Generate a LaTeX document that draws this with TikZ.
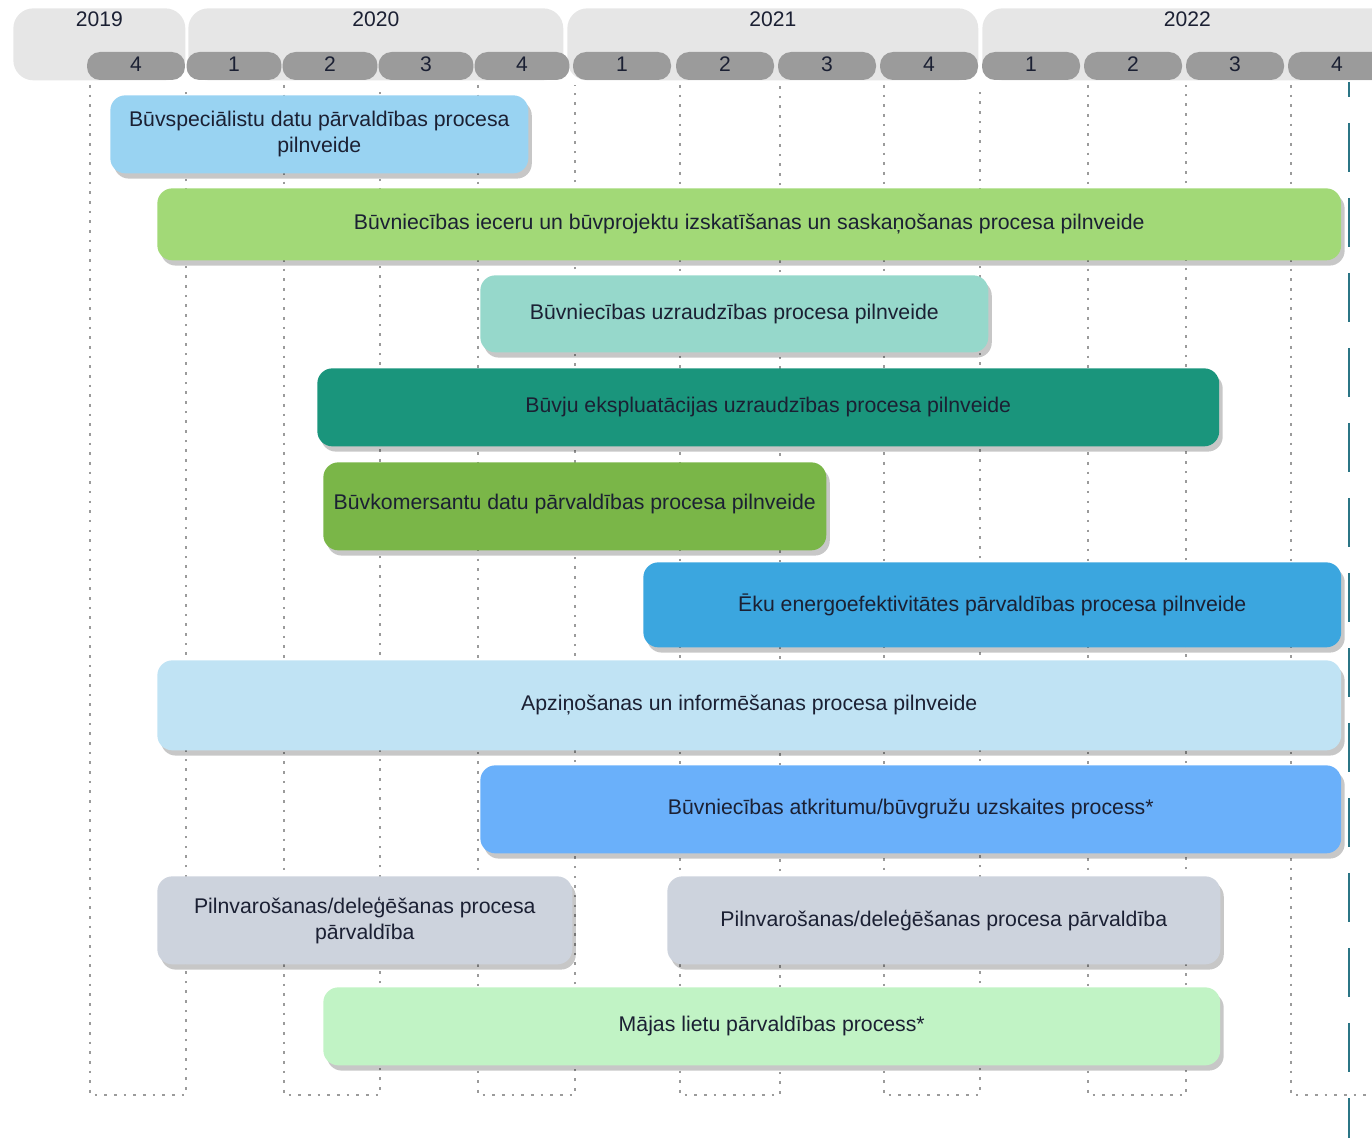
\documentclass[tikz,border=0pt]{standalone}
\usepackage{fontspec}
\setmainfont{Liberation Sans}
\usetikzlibrary{shadows}
\definecolor{yeargray}{HTML}{E6E6E6}
\definecolor{qgray}{HTML}{9B9B9B}
\definecolor{ink}{HTML}{1B2033}
\definecolor{nowteal}{HTML}{2B7585}
\definecolor{cspec}{HTML}{99D3F2}
\definecolor{cieceru}{HTML}{A2D977}
\definecolor{cuzr}{HTML}{96D8CB}
\definecolor{cekspl}{HTML}{1A957C}
\definecolor{ckomers}{HTML}{7AB648}
\definecolor{cenerg}{HTML}{3BA6DF}
\definecolor{capzin}{HTML}{C0E3F4}
\definecolor{catkr}{HTML}{6AB0FA}
\definecolor{cpilnv}{HTML}{CDD3DD}
\definecolor{cmajas}{HTML}{C1F3C5}
\tikzstyle{year} = [rectangle, rounded corners=0.4cm, fill=yeargray, anchor=north west, minimum height=1.44cm, inner sep=0pt]
\tikzstyle{yearlabel} = [anchor=north, inner sep=2pt, text=ink, font=\fontsize{12}{14}\selectfont]
\tikzstyle{quarter} = [rectangle, rounded corners=0.26cm, fill=qgray, minimum width=1.96cm, minimum height=0.56cm, inner sep=0pt, text=ink, font=\fontsize{12}{14}\selectfont]
\tikzstyle{bar} = [rectangle, rounded corners=0.3cm, anchor=north west, inner sep=0pt, align=center, text=ink, font=\fontsize{12.1}{14.8}\selectfont, drop shadow={shadow xshift=2pt, shadow yshift=-3pt, opacity=0.22, fill=black}]
\tikzstyle{guide} = [draw=qgray, line width=0.6pt, dash pattern=on 1.5pt off 4pt]
\tikzstyle{today} = [draw=nowteal, line width=1.4pt, dash pattern=on 0.98cm off 0.52cm, dash phase=0.68cm]

\begin{document}
\begin{tikzpicture}[x=0.02cm, y=-0.02cm]

    \clip (0,0) rectangle (1372,1138);

    % years
    \node (y19) [year, minimum width=3.44cm, label={[yearlabel]north:2019}] at (13,8) {};
    \node (y20) [year, minimum width=7.5cm, label={[yearlabel]north:2020}] at (188,8) {};
    \node (y21) [year, minimum width=8.22cm, label={[yearlabel]north:2021}] at (567,8) {};
    \node (y22) [year, minimum width=8.2cm, label={[yearlabel]north:2022}] at (982,8) {};

    % quarters
    \node (q1) [quarter] at (136,66) {\raisebox{2pt}{4}};
    \node (q2) [quarter, minimum width=1.9cm] at (234,66) {\raisebox{2pt}{1}};
    \node (q3) [quarter, minimum width=1.9cm] at (330,66) {\raisebox{2pt}{2}};
    \node (q4) [quarter, minimum width=1.9cm] at (426,66) {\raisebox{2pt}{3}};
    \node (q5) [quarter, minimum width=1.9cm] at (522,66) {\raisebox{2pt}{4}};
    \node (q6) [quarter] at (622,66) {\raisebox{2pt}{1}};
    \node (q7) [quarter] at (725,66) {\raisebox{2pt}{2}};
    \node (q8) [quarter] at (827,66) {\raisebox{2pt}{3}};
    \node (q9) [quarter] at (929,66) {\raisebox{2pt}{4}};
    \node (q10) [quarter] at (1031,66) {\raisebox{2pt}{1}};
    \node (q11) [quarter] at (1133,66) {\raisebox{2pt}{2}};
    \node (q12) [quarter] at (1235,66) {\raisebox{2pt}{3}};
    \node (q13) [quarter] at (1337,66) {\raisebox{2pt}{4}};

    % quarter guides
    \draw [guide] (90,85) -- (90,1095) -- (186,1095) -- (186,85);
    \draw [guide] (284,85) -- (284,1095) -- (380,1095) -- (380,85);
    \draw [guide] (478,85) -- (478,1095) -- (575,1095) -- (575,85);
    \draw [guide] (680,85) -- (680,1095) -- (780,1095) -- (780,85);
    \draw [guide] (884,85) -- (884,1095) -- (980,1095) -- (980,85);
    \draw [guide] (1088,85) -- (1088,1095) -- (1186,1095) -- (1186,85);
    \draw [guide] (1291,85) -- (1291,1095) -- (1380,1095);

    % processes
    \node (p1) [bar, fill=cspec, minimum width=8.36cm, minimum height=1.56cm] at (110,95) {Būvspeciālistu datu pārvaldības procesa\\pilnveide};
    \node (p2) [bar, fill=cieceru, minimum width=23.68cm, minimum height=1.44cm] at (157,188) {Būvniecības ieceru un būvprojektu izskatīšanas un saskaņošanas procesa pilnveide};
    \node (p3) [bar, fill=cuzr, minimum width=10.16cm, minimum height=1.54cm] at (480,275) {Būvniecības uzraudzības procesa pilnveide};
    \node (p4) [bar, fill=cekspl, minimum width=18.04cm, minimum height=1.56cm] at (317,368) {Būvju ekspluatācijas uzraudzības procesa pilnveide};
    \node (p5) [bar, fill=ckomers, minimum width=10.06cm, minimum height=1.76cm] at (323,462) {\raisebox{5pt}{Būvkomersantu datu pārvaldības procesa pilnveide}};
    \node (p6) [bar, fill=cenerg, minimum width=13.96cm, minimum height=1.7cm] at (643,562) {Ēku energoefektivitātes pārvaldības procesa pilnveide};
    \node (p7) [bar, fill=capzin, minimum width=23.68cm, minimum height=1.8cm] at (157,660) {Apziņošanas un informēšanas procesa pilnveide};
    \node (p8) [bar, fill=catkr, minimum width=17.22cm, minimum height=1.76cm] at (480,765) {Būvniecības atkritumu/būvgružu uzskaites process*};
    \node (p9) [bar, fill=cpilnv, minimum width=8.3cm, minimum height=1.76cm] at (157,876) {Pilnvarošanas/deleģēšanas procesa\\pārvaldība};
    \node (p10) [bar, fill=cpilnv, minimum width=11.06cm, minimum height=1.76cm] at (667,876) {Pilnvarošanas/deleģēšanas procesa pārvaldība};
    \node (p11) [bar, fill=cmajas, minimum width=17.94cm, minimum height=1.56cm] at (323,987) {Mājas lietu pārvaldības process*};

    % today marker
    \coordinate (nowtop) at (1349,82);
    \coordinate (nowbot) at (1349,1150);
    \draw [today] (nowtop) -- (nowbot);

\end{tikzpicture}
\end{document}
